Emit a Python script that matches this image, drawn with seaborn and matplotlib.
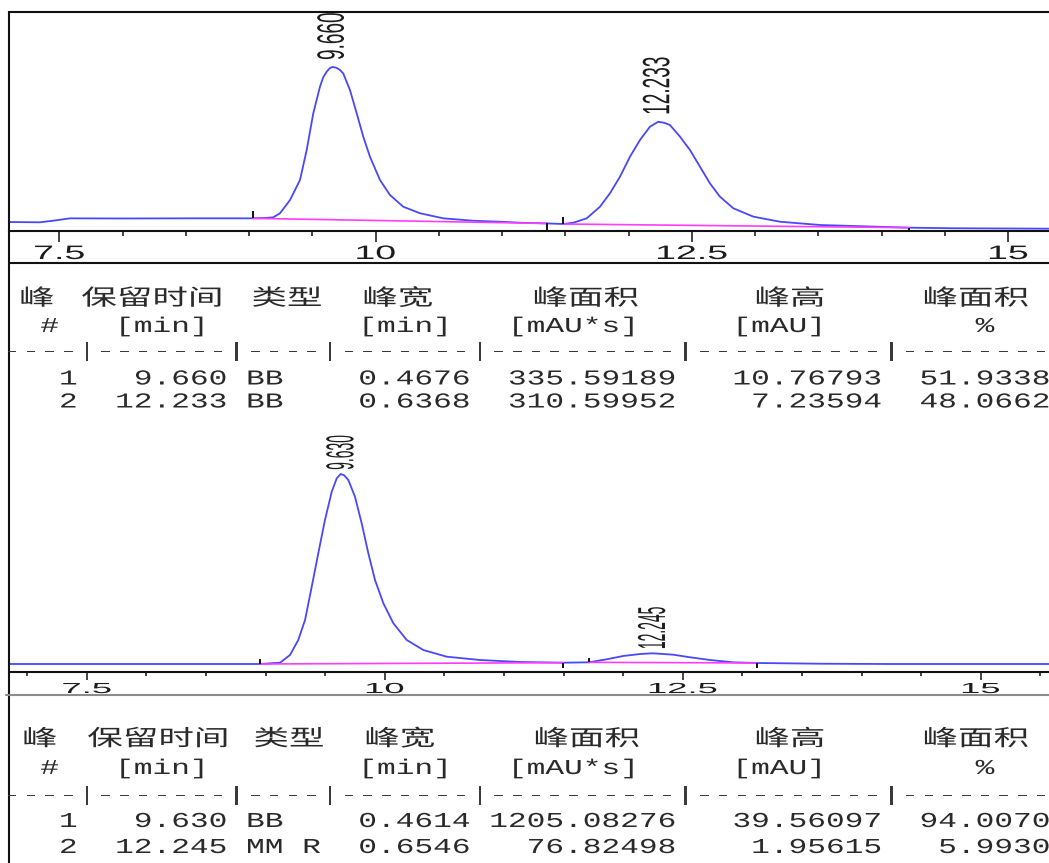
import matplotlib
matplotlib.use("Agg")
import numpy as np
import seaborn as sns
import matplotlib.pyplot as plt
from matplotlib.patheffects import AbstractPathEffect
from matplotlib.transforms import Affine2D
from matplotlib.lines import Line2D
from matplotlib.ticker import MultipleLocator

# ------------------------------------------------------------------ data
# run 1 (racemic) trace, time [min] / signal [mAU]
run1_time = [7.102, 7.347, 7.466, 7.584, 7.98, 8.49, 9.03, 9.12, 9.19, 9.244, 9.323,
             9.402, 9.455, 9.507, 9.560, 9.585, 9.613, 9.637, 9.660, 9.685, 9.70, 9.72,
             9.744, 9.797, 9.850, 9.902, 9.955, 10.034, 10.113, 10.218, 10.35, 10.535,
             10.772, 10.983, 11.141, 11.357, 11.483, 11.562, 11.668, 11.773, 11.852,
             11.931, 12.010, 12.089, 12.168, 12.233, 12.28, 12.326, 12.405, 12.484,
             12.563, 12.642, 12.721, 12.827, 12.985, 13.196, 13.512, 13.775, 14.218,
             14.565, 15.322]
run1_mau = [0.14, 0.12, 0.25, 0.40, 0.39, 0.40, 0.40, 0.42, 0.47, 0.76, 1.69,
            3.11, 5.23, 7.82, 9.70, 10.35, 10.76, 11.00, 11.09, 11.04, 10.98, 10.86,
            10.63, 9.46, 7.82, 6.17, 4.75, 3.11, 2.05, 1.22, 0.76, 0.40,
            0.23, 0.16, 0.09, 0.04, 0.0, 0.09, 0.40, 1.22, 2.17,
            3.34, 4.75, 5.93, 6.87, 7.22, 7.15, 6.99, 6.17, 5.23,
            4.05, 2.87, 1.93, 1.11, 0.52, 0.16, -0.07, -0.14, -0.26,
            -0.30, -0.33]
run1_base1_time = [9.03, 11.357]
run1_base1_mau = [0.40, 0.04]
run1_base2_time = [11.483, 14.218]
run1_base2_mau = [0.0, -0.26]
run1_event_time = [9.03, 11.357, 11.483, 14.218]
run1_event_mau = [0.40, 0.04, 0.0, -0.26]
run1_event_dir = [1, -1, 1, -1]

run1_peak_no = [1, 2]
run1_rt = [9.660, 12.233]
run1_type = ["BB", "BB"]
run1_width = [0.4676, 0.6368]
run1_area = [335.59189, 310.59952]
run1_height = [10.76793, 7.23594]
run1_pct = [51.9338, 48.0662]

# run 2 (enantioenriched) trace
run2_time = [6.847, 8.953, 9.121, 9.205, 9.274, 9.331, 9.387, 9.442, 9.498, 9.555,
             9.597, 9.630, 9.66, 9.694, 9.750, 9.806, 9.862, 9.918, 9.988, 10.072,
             10.184, 10.323, 10.520, 10.799, 11.135, 11.498, 11.713, 11.862, 12.001,
             12.142, 12.245, 12.421, 12.561, 12.729, 12.924, 13.121, 13.652, 14.212,
             15.573]
run2_mau = [0.0, 0.0, 0.27, 1.88, 5.0, 9.17, 16.1, 23.06, 30.0, 35.9,
            38.69, 39.58, 39.3, 38.33, 34.85, 29.31, 23.06, 17.5, 12.65, 8.48,
            5.0, 2.92, 1.52, 0.83, 0.42, 0.27, 0.35, 0.98, 1.67,
            2.08, 2.23, 1.94, 1.40, 0.83, 0.35, 0.21, 0.06, 0.0,
            0.0]
run2_base1_time = [8.953, 11.498]
run2_base1_mau = [0.0, 0.27]
run2_base2_time = [11.713, 13.121]
run2_base2_mau = [0.35, 0.21]
run2_event_time = [8.953, 11.498, 11.713, 13.121]
run2_event_mau = [0.0, 0.27, 0.35, 0.21]
run2_event_dir = [1, -1, 1, -1]

run2_peak_no = [1, 2]
run2_rt = [9.630, 12.245]
run2_type = ["BB", "MM R"]
run2_width = [0.4614, 0.6546]
run2_area = [1205.08276, 76.82498]
run2_height = [39.56097, 1.95615]
run2_pct = [94.0070, 5.9930]

tick_major = [7.5, 10, 12.5, 15]
tick_labels = ["7.5", "10", "12.5", "15"]
header_cn = ["峰", "保留时间", "类型", "峰宽", "峰面积", "峰高", "峰面积"]
units_line = "  #   [min]        [min]   [mAU*s]     [mAU]        %"
sep_line = "----|-------|----|-------|----------|----------|---------"

# ------------------------------------------------------------------ style
sns.set_theme(style="white")
plt.rcParams["font.family"] = ["Liberation Sans", "Noto Sans CJK SC", "DejaVu Sans"]
MONO = ["Liberation Mono", "DejaVu Sans Mono"]
CJK = ["Noto Sans CJK SC", "DejaVu Sans"]
TRACE = "#4848f8"
BASE = "#ff3cff"
INK = "#1c1c1c"


class HStretch(AbstractPathEffect):
    """Widen glyphs horizontally (the reference screenshot is stretched)."""

    def __init__(self, sx, about="center"):
        super().__init__()
        self.sx = sx
        self.about = about

    def draw_path(self, renderer, gc, tpath, affine, rgbFace=None):
        if self.about == "origin":
            cx = affine.get_matrix()[0, 2]
        else:
            bb = tpath.get_extents(affine)
            cx = 0.5 * (bb.x0 + bb.x1)
        st = Affine2D().translate(-cx, 0).scale(self.sx, 1.0).translate(cx, 0)
        renderer.draw_path(gc, tpath, affine + st, rgbFace)


W, H = 1049, 863
fig = plt.figure(figsize=(W / 100, H / 100), dpi=100)
fig.patch.set_facecolor("white")


def fx(x):
    return x / W


def fy(y):
    return 1 - y / H


def chart(rect, xlim, ylim, t, v, b1, b2, ev_t, ev_v, ev_d, ev_len, rts,
          tick_fs, tick_sx, maj_len, min_len, pad, lab_fs, lab_sx, lab_off, top_spine):
    ax = fig.add_axes(rect)
    ax.set_facecolor("white")
    sns.lineplot(x=t, y=v, ax=ax, color=TRACE, lw=1.3, estimator=None, sort=False)
    sns.lineplot(x=b1[0], y=b1[1], ax=ax, color=BASE, lw=1.2, estimator=None, sort=False)
    sns.lineplot(x=b2[0], y=b2[1], ax=ax, color=BASE, lw=1.2, estimator=None, sort=False)
    ev_end = [yy + d * ev_len for yy, d in zip(ev_v, ev_d)]
    ax.vlines(ev_t, ev_v, ev_end, color="#111111", lw=1.4)
    ax.set_xlim(*xlim)
    ax.set_ylim(*ylim)
    ax.set_xlabel("")
    ax.set_ylabel("")
    ax.set_yticks([])
    ax.set_xticks(tick_major)
    ax.set_xticklabels(tick_labels)
    ax.xaxis.set_minor_locator(MultipleLocator(0.5))
    ax.tick_params(axis="x", which="major", direction="out", length=maj_len, width=1.1,
                   color="#111111", pad=pad, labelsize=tick_fs, labelcolor=INK, bottom=True)
    ax.tick_params(axis="x", which="minor", direction="out", length=min_len, width=1.1,
                   color="#111111", bottom=True)
    for lab in ax.get_xticklabels():
        lab.set_path_effects([HStretch(tick_sx)])
    for name, sp in ax.spines.items():
        sp.set_visible(name == "bottom" or (name == "top" and top_spine))
        sp.set_color("#111111")
        sp.set_linewidth(1.5)
    tt = np.asarray(t)
    vv = np.asarray(v)
    for rt in rts:
        m = np.abs(tt - rt) < 0.12
        apex = vv[m].max()
        ax.annotate(f"{rt:.3f}", xy=(rt, apex), xytext=(0, lab_off), textcoords="offset points",
                    rotation=90, ha="center", va="bottom", fontsize=lab_fs, color=INK,
                    path_effects=[HStretch(lab_sx)])
    return ax


# top chromatogram: 14.16 px per mAU, 126.5 px per min
ax1 = chart([fx(9), fy(231), 1040 / W, 219 / H], (7.102, 15.322), (-0.494, 14.97),
            run1_time, run1_mau, (run1_base1_time, run1_base1_mau),
            (run1_base2_time, run1_base2_mau), run1_event_time, run1_event_mau,
            run1_event_dir, 0.52, run1_rt,
            tick_fs=14, tick_sx=1.93, maj_len=7.9, min_len=3.6, pad=2.9,
            lab_fs=13.7, lab_sx=2.0, lab_off=5, top_spine=True)

# bottom chromatogram: 4.8 px per mAU, 119.2 px per min
ax2 = chart([fx(9), fy(672.3), 1040 / W, (672.3 - 415) / H], (6.847, 15.573), (-1.729, 51.875),
            run2_time, run2_mau, (run2_base1_time, run2_base1_mau),
            (run2_base2_time, run2_base2_mau), run2_event_time, run2_event_mau,
            run2_event_dir, 1.0, run2_rt,
            tick_fs=10.5, tick_sx=2.5, maj_len=5.8, min_len=2.9, pad=1.2,
            lab_fs=10, lab_sx=2.8, lab_off=3, top_spine=False)

# frame lines of the report page
fig.add_artist(Line2D([fx(8.5), fx(8.5)], [fy(12), fy(863)], transform=fig.transFigure,
                      color="#111111", lw=1.5))
fig.add_artist(Line2D([fx(8.5), 1.0], [fy(263), fy(263)], transform=fig.transFigure,
                      color="#111111", lw=1.5))
fig.add_artist(Line2D([fx(6), 1.0], [fy(695), fy(695)], transform=fig.transFigure,
                      color="#8c8c8c", lw=1.5))

# ------------------------------------------------------------------ tables
MONO_FS = 15.3
MONO_SX = 1.467
CJK_FS = 16
CJK_SX = 1.6
X0 = 2.85


def table(y_head, y_units, y_sep, y_rows, head_x, nos, rts, types, widths, areas, heights, pcts):
    for txt, xc in zip(header_cn, head_x):
        fig.text(fx(xc), fy(y_head), txt, ha="center", va="baseline", fontsize=CJK_FS,
                 family=CJK, color="#2a2a2a", path_effects=[HStretch(CJK_SX)])
    fig.text(fx(X0), fy(y_units), units_line, ha="left", va="baseline", fontsize=MONO_FS,
             family=MONO, color="#2a2a2a", path_effects=[HStretch(MONO_SX, "origin")])
    fig.text(fx(X0), fy(y_sep), sep_line, ha="left", va="baseline", fontsize=MONO_FS,
             family=MONO, color="#3a3a3a", path_effects=[HStretch(MONO_SX, "origin")])
    for i in range(len(nos)):
        row = (f"{nos[i]:>4d}{rts[i]:>8.3f} {types[i]:<4s}{widths[i]:>8.4f}"
               f"{areas[i]:>11.5f}{heights[i]:>11.5f}{pcts[i]:>9.4f}")
        fig.text(fx(X0), fy(y_rows[i]), row, ha="left", va="baseline", fontsize=MONO_FS,
                 family=MONO, color="#2a2a2a", path_effects=[HStretch(MONO_SX, "origin")])


table(305, 332, 357, [384.5, 407.5], [37, 152, 287, 398, 586, 790, 976],
      run1_peak_no, run1_rt, run1_type, run1_width, run1_area, run1_height, run1_pct)
table(745.5, 774, 801, [827, 853], [40, 158, 289, 400, 587, 790, 976],
      run2_peak_no, run2_rt, run2_type, run2_width, run2_area, run2_height, run2_pct)

fig.savefig("out.png", dpi=100, facecolor="white")
